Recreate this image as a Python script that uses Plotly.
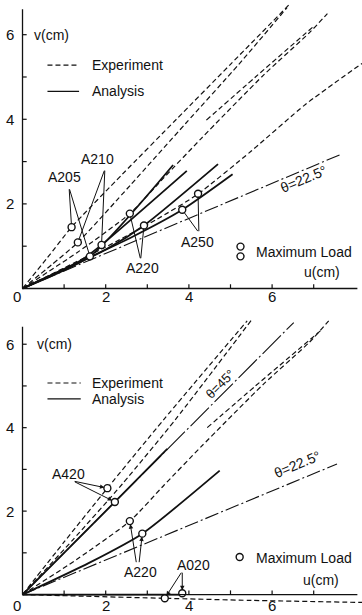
import plotly.graph_objects as go

# ---------------- axis ticks ----------------
x_ticks = [1, 2, 3, 4, 5, 6, 7]
y_ticks = [1, 2, 3, 4, 5, 6]
x_tick_labels = ["2", "4", "6"]
x_label_pos = [2, 4, 6]
y_tick_labels = ["2", "4", "6"]
y_label_pos = [2, 4, 6]

# ---------------- upper panel (A205, A210, A220, A250) ----------------
top_exp_a205_u = [0, 0.6, 1.18, 2.4, 3.7, 5.0, 6.4]
top_exp_a205_v = [0, 0.73, 1.45, 2.7, 4.0, 5.3, 6.7]
top_exp_a210_u = [0, 0.7, 1.33, 2.6, 3.92, 5.2, 6.36]
top_exp_a210_v = [0, 0.56, 1.09, 2.45, 3.9, 5.3, 6.64]
top_exp_a220_u = [0, 1.3, 2.58, 3.4, 4.3, 5.8, 6.9, 7.33]
top_exp_a220_v = [0, 0.84, 1.77, 2.62, 3.55, 5.05, 6.05, 6.5]
top_exp_a220b_u = [4.42, 5.6, 7.0]
top_exp_a220b_v = [3.98, 5.0, 6.2]
top_exp_a250_u = [0, 2.0, 3.2, 4.2, 5.5, 6.8, 8.16]
top_exp_a250_v = [0, 0.98, 1.62, 2.22, 3.25, 4.35, 5.32]

top_ana_a205_u = [0, 1.62, 3.62]
top_ana_a205_v = [0, 0.76, 2.92]
top_ana_a210_u = [0, 1.4, 1.9, 3.95]
top_ana_a210_v = [0, 0.66, 1.03, 2.78]
top_ana_a220_u = [0, 2.0, 2.92, 4.7]
top_ana_a220_v = [0, 0.92, 1.49, 2.94]
top_ana_a250_u = [0, 2.6, 3.84, 5.05]
top_ana_a250_v = [0, 1.2, 1.86, 2.7]

top_theta22_u = [0, 7.65]
top_theta22_v = [0, 3.17]

# maximum-load points
top_max_exp_u = [1.18, 1.33, 2.58, 4.22]
top_max_exp_v = [1.45, 1.09, 1.77, 2.24]
top_max_ana_u = [1.62, 1.9, 2.92, 3.84]
top_max_ana_v = [0.76, 1.03, 1.49, 1.86]

# ---------------- lower panel (A420, A220, A020) ----------------
bot_exp_a420a_u = [0, 1.0, 2.04, 3.4, 5.4]
bot_exp_a420a_v = [0, 1.26, 2.55, 4.2, 6.56]
bot_exp_a420b_u = [0, 1.2, 2.4, 3.68, 5.52]
bot_exp_a420b_v = [0, 1.3, 2.65, 4.2, 6.6]
bot_exp_a220_u = [0, 1.3, 2.58, 3.4, 4.3, 5.8, 6.9, 7.36]
bot_exp_a220_v = [0, 0.84, 1.76, 2.62, 3.55, 5.05, 6.05, 6.56]
bot_exp_a220b_u = [4.44, 5.6, 7.16]
bot_exp_a220b_v = [4.0, 5.0, 6.32]
bot_exp_a020_u = [0, 1.5, 3.42, 5.5, 8.2]
bot_exp_a020_v = [0, -0.04, -0.09, -0.14, -0.19]

bot_ana_a420_u = [0, 2.22, 3.48]
bot_ana_a420_v = [0, 2.22, 3.49]
bot_ana_a220_u = [0, 1.6, 2.88, 4.74]
bot_ana_a220_v = [0, 0.76, 1.46, 2.97]
bot_ana_a020_u = [0, 3.84]
bot_ana_a020_v = [0, 0.0]

bot_theta45_u = [0, 6.52]
bot_theta45_v = [0, 6.52]
bot_theta22_u = [0, 7.56]
bot_theta22_v = [0, 3.13]

bot_max_exp_u = [2.04, 2.58, 3.42]
bot_max_exp_v = [2.55, 1.76, -0.09]
bot_max_ana_u = [2.22, 2.88, 3.84]
bot_max_ana_v = [2.22, 1.46, 0.03]

# ---------------- styling ----------------
FONT = "Liberation Sans"
INK = "#111111"
W, H = 362, 615
X_RANGE = [-0.541, 8.161]
TOP_RANGE = [-0.272, 6.82]
BOT_RANGE = [-0.49, 6.94]

fig = go.Figure()


def line(u, v, panel, dash="solid", width=1.2):
    xa, ya = ("x", "y") if panel == 1 else ("x2", "y2")
    fig.add_trace(go.Scatter(x=u, y=v, xaxis=xa, yaxis=ya, mode="lines",
                             line=dict(color=INK, width=width, dash=dash,
                                       shape="spline", smoothing=0.6),
                             hoverinfo="skip", showlegend=False))


def circles(u, v, panel):
    xa, ya = ("x", "y") if panel == 1 else ("x2", "y2")
    fig.add_trace(go.Scatter(x=u, y=v, xaxis=xa, yaxis=ya, mode="markers",
                             marker=dict(symbol="circle", size=7, color="white",
                                         line=dict(color=INK, width=1.4)),
                             hoverinfo="skip", showlegend=False, cliponaxis=False))


EXP_DASH = "5px,3px"
DASHDOT = "14px,3px,2px,3px"
LONG_DASHDOT = "26px,3px,2px,3px"

# upper panel curves
line(top_theta22_u, top_theta22_v, 1, DASHDOT, 1.1)
for u, v in [(top_exp_a205_u, top_exp_a205_v), (top_exp_a210_u, top_exp_a210_v),
             (top_exp_a220_u, top_exp_a220_v), (top_exp_a220b_u, top_exp_a220b_v),
             (top_exp_a250_u, top_exp_a250_v)]:
    line(u, v, 1, EXP_DASH, 1.2)
for u, v in [(top_ana_a205_u, top_ana_a205_v), (top_ana_a210_u, top_ana_a210_v),
             (top_ana_a220_u, top_ana_a220_v), (top_ana_a250_u, top_ana_a250_v)]:
    line(u, v, 1, "solid", 1.8)
circles(top_max_exp_u, top_max_exp_v, 1)
circles(top_max_ana_u, top_max_ana_v, 1)

# lower panel curves
line(bot_theta45_u, bot_theta45_v, 2, LONG_DASHDOT, 1.1)
line(bot_theta22_u, bot_theta22_v, 2, DASHDOT, 1.1)
for u, v in [(bot_exp_a420a_u, bot_exp_a420a_v), (bot_exp_a420b_u, bot_exp_a420b_v),
             (bot_exp_a220_u, bot_exp_a220_v), (bot_exp_a220b_u, bot_exp_a220b_v),
             (bot_exp_a020_u, bot_exp_a020_v)]:
    line(u, v, 2, EXP_DASH, 1.2)
for u, v in [(bot_ana_a420_u, bot_ana_a420_v), (bot_ana_a220_u, bot_ana_a220_v),
             (bot_ana_a020_u, bot_ana_a020_v)]:
    line(u, v, 2, "solid", 1.8)
circles(bot_max_exp_u, bot_max_exp_v, 2)
circles(bot_max_ana_u, bot_max_ana_v, 2)

shapes = []
annotations = []


def seg(panel, x0, y0, x1, y1, width=1.2, dash="solid"):
    xa, ya = ("x", "y") if panel == 1 else ("x2", "y2")
    shapes.append(dict(type="line", xref=xa, yref=ya, x0=x0, y0=y0, x1=x1, y1=y1,
                       line=dict(color=INK, width=width, dash=dash)))


def text(panel, x, y, s, size=14, angle=0, xanchor="center", yanchor="middle"):
    xa, ya = ("x", "y") if panel == 1 else ("x2", "y2")
    annotations.append(dict(xref=xa, yref=ya, x=x, y=y, text=s, showarrow=False,
                            textangle=angle, xanchor=xanchor, yanchor=yanchor,
                            borderpad=0,
                            font=dict(family=FONT, size=size, color=INK)))


def leader(panel, x0, y0, x1, y1, head):
    xa, ya = ("x", "y") if panel == 1 else ("x2", "y2")
    annotations.append(dict(xref=xa, yref=ya, axref=xa, ayref=ya, x=x1, y=y1,
                            ax=x0, ay=y0, text="", showarrow=True,
                            arrowhead=2 if head else 0, arrowsize=0.9,
                            arrowwidth=1.0, arrowcolor=INK, standoff=3))


# axes, ticks and tick labels for both panels
for panel, y_top, lbl_v in [(1, 6.6, -0.2), (2, 6.42, -0.27)]:
    seg(panel, 0, 0, 0, y_top, 1.3)
    seg(panel, 0, 0, 8.05, 0, 1.3)
    for t in y_ticks:
        seg(panel, 0, t, 0.1, t, 1.2)
    for t in x_ticks:
        seg(panel, t, 0, t, 0.1, 1.2)
    for s, p in zip(y_tick_labels, y_label_pos):
        text(panel, -0.31, p, s, size=15)
    for s, p in zip(x_tick_labels, x_label_pos):
        text(panel, p, lbl_v, s, size=15)
    text(panel, -0.13, lbl_v, "0", size=15)

# upper panel labels
text(1, 0.7, 6.0, "v(cm)")
text(1, 7.2, 0.4, "u(cm)")
seg(1, 0.6, 5.28, 1.36, 5.28, 1.2, "5px,3px")
seg(1, 0.6, 4.66, 1.36, 4.66, 1.3)
text(1, 1.64, 5.28, "Experiment", xanchor="left")
text(1, 1.64, 4.66, "Analysis", xanchor="left")
text(1, 5.6, 0.87, "Maximum Load", xanchor="left")
circles([5.24, 5.24], [0.99, 0.76], 1)
text(1, 6.75, 2.6, "θ=22.5°", angle=-22.5)
text(1, 1.0, 2.63, "A205")
leader(1, 1.12, 2.38, 1.18, 1.45, False)
leader(1, 1.12, 2.38, 1.62, 0.76, False)
text(1, 1.8, 3.05, "A210")
leader(1, 1.98, 2.82, 1.33, 1.09, False)
leader(1, 1.98, 2.82, 1.9, 1.03, False)
text(1, 2.88, 0.48, "A220")
leader(1, 2.84, 0.68, 2.58, 1.77, False)
leader(1, 2.84, 0.68, 2.92, 1.49, False)
text(1, 4.2, 1.1, "A250")
leader(1, 4.24, 1.32, 3.84, 1.86, False)
leader(1, 4.24, 1.32, 4.22, 2.24, False)

# lower panel labels
text(2, 0.76, 6.0, "v(cm)")
text(2, 7.18, 0.34, "u(cm)")
seg(2, 0.6, 5.07, 1.4, 5.07, 1.2, "5px,3px")
seg(2, 0.6, 4.69, 1.4, 4.69, 1.3)
text(2, 1.64, 5.07, "Experiment", xanchor="left")
text(2, 1.64, 4.69, "Analysis", xanchor="left")
text(2, 5.6, 0.88, "Maximum Load", xanchor="left")
circles([5.22], [0.9], 2)
text(2, 4.74, 5.04, "θ=45°", size=13, angle=-45)
text(2, 6.62, 3.12, "θ=22.5°", angle=-22.5)
text(2, 1.1, 2.89, "A420")
leader(2, 1.22, 2.72, 2.04, 2.55, True)
leader(2, 1.22, 2.72, 2.22, 2.22, True)
text(2, 2.84, 0.54, "A220")
leader(2, 2.74, 0.74, 2.58, 1.76, True)
leader(2, 2.8, 0.74, 2.88, 1.46, True)
text(2, 4.12, 0.72, "A020")
leader(2, 3.84, 0.56, 3.42, -0.09, True)
leader(2, 3.84, 0.56, 3.84, 0.03, True)

hidden = dict(visible=False, showgrid=False, zeroline=False, fixedrange=True)
fig.update_layout(
    width=W, height=H,
    margin=dict(l=0, r=0, t=0, b=0),
    paper_bgcolor="white", plot_bgcolor="white",
    showlegend=False,
    xaxis=dict(hidden, range=X_RANGE, domain=[0, 1], anchor="y"),
    yaxis=dict(hidden, range=TOP_RANGE, domain=[1 - 300 / H, 1], anchor="x"),
    xaxis2=dict(hidden, range=X_RANGE, domain=[0, 1], anchor="y2"),
    yaxis2=dict(hidden, range=BOT_RANGE, domain=[0, 310 / H], anchor="x2"),
    shapes=shapes,
    annotations=annotations,
)

fig.write_html("out.html")
